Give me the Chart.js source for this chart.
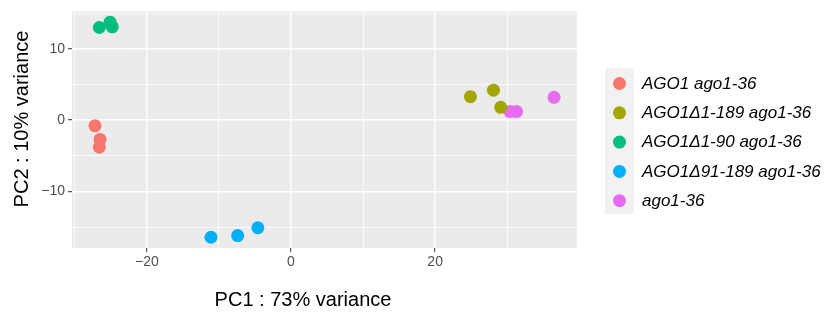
<!DOCTYPE html>
<html>
<head>
<meta charset="utf-8">
<script src="https://cdn.jsdelivr.net/npm/chart.js@4/dist/chart.umd.min.js"></script>
<style>
  html, body { margin: 0; padding: 0; background: #fff; }
  #wrap { width: 830px; height: 320px; }
</style>
</head>
<body>
<div id="wrap"><canvas id="pca"></canvas></div>
<script>
// groups (legend order)
const groups = ['AGO1 ago1-36', 'AGO1\u03941-189 ago1-36', 'AGO1\u03941-90 ago1-36', 'AGO1\u039491-189 ago1-36', 'ago1-36'];
const colors = ['#F8766D', '#A3A500', '#00BF7D', '#00B0F6', '#E76BF3'];

// PC1 / PC2 per group
const pc1_ago1 = [-27.2, -26.5, -26.6];
const pc2_ago1 = [-0.8, -2.7, -3.8];
const pc1_d1_189 = [24.9, 28.1, 29.1];
const pc2_d1_189 = [3.3, 4.2, 1.8];
const pc1_d1_90 = [-26.6, -25.1, -24.8];
const pc2_d1_90 = [13.0, 13.75, 13.1];
const pc1_d91_189 = [-11.1, -7.4, -4.6];
const pc2_d91_189 = [-16.43, -16.2, -15.1];
const pc1_ago = [30.4, 31.3, 36.5];
const pc2_ago = [1.2, 1.2, 3.2];

const xTicks = [-30, -20, -10, 0, 10, 20, 30];
const xLabels = [-20, 0, 20];
const yTicks = [-15, -10, -5, 0, 5, 10, 15];
const yLabels = [-10, 0, 10];

const xTitle = 'PC1 : 73% variance';
const yTitle = 'PC2 : 10% variance';

const pcX = [pc1_ago1, pc1_d1_189, pc1_d1_90, pc1_d91_189, pc1_ago];
const pcY = [pc2_ago1, pc2_d1_189, pc2_d1_90, pc2_d91_189, pc2_ago];

// ggplot style 5% expansion
function expand(arrs) {
  const all = [].concat(...arrs);
  const lo = Math.min(...all), hi = Math.max(...all);
  const pad = (hi - lo) * 0.05;
  return [lo - pad, hi + pad];
}
const [xMin, xMax] = expand(pcX);
const [yMin, yMax] = expand(pcY);

const datasets = groups.map((g, i) => ({
  label: g,
  data: pcX[i].map((x, j) => ({ x: x, y: pcY[i][j] })),
  backgroundColor: colors[i],
  borderWidth: 0,
  pointRadius: 6.5,
  pointHoverRadius: 6.5
}));

const FONT = '"Liberation Sans", Arial, sans-serif';

// grey panel
const panelBg = {
  id: 'panelBg',
  beforeDraw(chart) {
    const a = chart.chartArea;
    const ctx = chart.ctx;
    ctx.save();
    ctx.fillStyle = '#EBEBEB';
    ctx.fillRect(a.left, a.top, a.right - a.left, a.bottom - a.top);
    ctx.restore();
  }
};

// axis titles + legend, ggplot style
const extras = {
  id: 'extras',
  afterDraw(chart) {
    const ctx = chart.ctx;
    ctx.save();
    ctx.fillStyle = '#000';
    ctx.font = '20px ' + FONT;
    ctx.textAlign = 'center';
    ctx.textBaseline = 'middle';
    ctx.fillText(xTitle, 303, 300);
    ctx.translate(22, 119);
    ctx.rotate(-Math.PI / 2);
    ctx.fillText(yTitle, 0, 0);
    ctx.restore();

    // legend
    ctx.save();
    ctx.fillStyle = '#F2F2F2';
    ctx.fillRect(605, 68, 29, 146);
    chart.data.datasets.forEach((ds, i) => {
      const cy = 83.5 + i * 29.3;
      ctx.beginPath();
      ctx.arc(619.5, cy, 6.5, 0, Math.PI * 2);
      ctx.fillStyle = ds.backgroundColor;
      ctx.fill();
      ctx.fillStyle = '#000';
      ctx.font = 'italic 17px ' + FONT;
      ctx.textAlign = 'left';
      ctx.textBaseline = 'middle';
      ctx.fillText(ds.label, 642, cy + 0.5);
    });
    ctx.restore();
  }
};

function gridOpts(labels) {
  return {
    color: '#FFFFFF',
    lineWidth: c => labels.includes(c.tick && c.tick.value) ? 1.4 : 0.7,
    drawTicks: true,
    tickLength: 4,
    tickWidth: 1,
    tickColor: c => labels.includes(c.tick && c.tick.value) ? '#333333' : 'rgba(0,0,0,0)'
  };
}

new Chart(document.getElementById('pca'), {
  type: 'scatter',
  data: { datasets: datasets },
  options: {
    responsive: true,
    maintainAspectRatio: false,
    animation: false,
    layout: { padding: { top: 8, right: 253, left: 0, bottom: 0 } },
    scales: {
      x: {
        type: 'linear',
        min: xMin,
        max: xMax,
        border: { display: false },
        grid: gridOpts(xLabels),
        afterBuildTicks: s => { s.ticks = xTicks.map(v => ({ value: v })); },
        afterFit: s => { s.height = 72; },
        ticks: {
          autoSkip: false,
          maxRotation: 0,
          padding: 2,
          color: '#4D4D4D',
          font: { family: FONT, size: 14 },
          callback: v => xLabels.includes(v) ? String(v).replace('-', '\u2212') : ''
        }
      },
      y: {
        type: 'linear',
        min: yMin,
        max: yMax,
        border: { display: false },
        grid: gridOpts(yLabels),
        afterBuildTicks: s => { s.ticks = yTicks.map(v => ({ value: v })); },
        afterFit: s => { s.width = 72; },
        ticks: {
          autoSkip: false,
          padding: 3,
          color: '#4D4D4D',
          font: { family: FONT, size: 14 },
          callback: v => yLabels.includes(v) ? String(v).replace('-', '\u2212') : ''
        }
      }
    },
    plugins: {
      legend: { display: false },
      tooltip: { enabled: false }
    }
  },
  plugins: [panelBg, extras]
});
</script>
</body>
</html>
